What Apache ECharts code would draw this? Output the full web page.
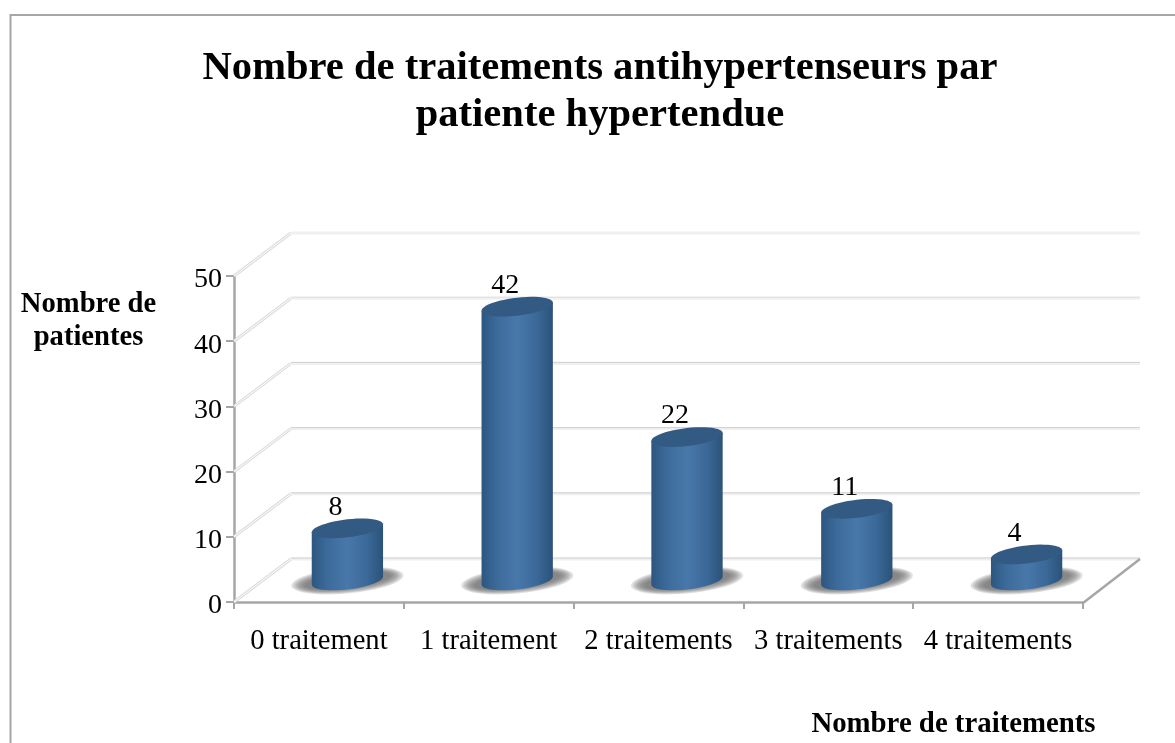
<!DOCTYPE html>
<html>
<head>
<meta charset="utf-8">
<style>
  html, body { margin: 0; padding: 0; background: #fff; }
  #main { width: 1175px; height: 743px; }
</style>
<script src="https://cdn.jsdelivr.net/npm/echarts@6/dist/echarts.min.js"></script>
</head>
<body>
<div id="main"></div>
<script>
var categories = ['0 traitement', '1 traitement', '2 traitements', '3 traitements', '4 traitements']
var patients = [8, 42, 22, 11, 4]
var yTicks = [0, 10, 20, 30, 40, 50]

// decalage de la profondeur du faux 3D
var DEPTH_X = 57
var DEPTH_Y = -43
var FONT = '"Liberation Serif", serif'

function ellipse (cx, cy, a, b, shear) {
  var pts = []
  for (var i = 0; i < 48; i++) {
    var t = i / 48 * Math.PI * 2
    pts.push([cx + a * Math.cos(t), cy + b * Math.sin(t) - shear * Math.cos(t)])
  }
  return pts
}

function renderWall (params, api) {
  var rect = params.coordSys
  var v = api.value(1)
  var y = api.coord([0, v])[1]
  var x0 = rect.x
  var x1 = x0 + DEPTH_X
  var x2 = rect.x + rect.width + DEPTH_X
  var y1 = y + DEPTH_Y
  var children = [
    { type: 'line', shape: { x1: x0, y1: y, x2: x1, y2: y1 }, style: { stroke: '#dcdcdc', lineWidth: 3 } },
    { type: 'line', shape: { x1: x0, y1: y, x2: x1, y2: y1 }, style: { stroke: '#fff', lineWidth: 1 } },
    { type: 'line', shape: { x1: x1, y1: y1, x2: x2, y2: y1 }, style: { stroke: '#f0f0f0', lineWidth: 3 } }
  ]
  // la ligne du haut reste claire
  if (v < 50) {
    children.push({
      type: 'line',
      shape: { x1: x1, y1: y1 - 1, x2: x2, y2: y1 - 1 },
      style: { stroke: v === 40 ? '#dedede' : '#d0d0d0', lineWidth: 1 }
    })
  }
  if (v === 0) {
    children.push({
      type: 'line',
      shape: { x1: rect.x + rect.width, y1: y + 1, x2: x2, y2: y1 },
      style: { stroke: '#a6a6a6', lineWidth: 2.5 }
    })
  }
  return { type: 'group', children: children }
}

function renderShadow (params, api) {
  var base = api.coord([api.value(0), 0])
  var band = api.size([1, 0])[0]
  var children = []
  // ombre douce : ellipses empilees
  for (var i = 0; i < 7; i++) {
    children.push({
      type: 'polygon',
      shape: {
        points: ellipse(base[0] + DEPTH_X / 2, base[1] + DEPTH_Y / 2, band * 0.33 - i * 2.2, 13 - i * 0.9, 5)
      },
      style: { fill: 'rgba(105,105,105,0.2)' }
    })
  }
  return { type: 'group', children: children }
}

function renderCylinder (params, api) {
  var top = api.coord([api.value(0), api.value(1)])
  var base = api.coord([api.value(0), 0])
  var a = api.size([1, 0])[0] * 0.21
  var b = 9
  var shear = 4
  var cx = top[0] + DEPTH_X / 2
  var topY = top[1] + DEPTH_Y / 2
  var baseY = base[1] + DEPTH_Y / 2
  // le corps : haut du cote gauche, puis demi ellipse du bas
  var body = [[cx + a, topY - shear]]
  for (var i = 0; i <= 24; i++) {
    var t = i / 24 * Math.PI
    body.push([cx + a * Math.cos(t), baseY + b * Math.sin(t) - shear * Math.cos(t)])
  }
  body.push([cx - a, topY + shear])
  return {
    type: 'group',
    children: [
      {
        type: 'polygon',
        shape: { points: body },
        style: {
          fill: new echarts.graphic.LinearGradient(0, 0, 1, 0, [
            { offset: 0, color: '#2d5680' },
            { offset: 0.22, color: '#3c6b9b' },
            { offset: 0.5, color: '#4878aa' },
            { offset: 0.78, color: '#3a6898' },
            { offset: 1, color: '#2b5279' }
          ])
        }
      },
      {
        type: 'polygon',
        shape: { points: ellipse(cx, topY, a, b, shear) },
        style: { fill: '#325a82' }
      },
      {
        type: 'text',
        style: {
          text: String(api.value(1)),
          x: cx - 12,
          y: topY - 21,
          align: 'center',
          verticalAlign: 'middle',
          fill: '#000',
          font: '28px ' + FONT
        }
      }
    ]
  }
}

var myChart = echarts.init(document.getElementById('main'), null, { renderer: 'canvas' })
myChart.setOption({
  animation: false,
  backgroundColor: '#fff',
  title: [{
    text: 'Nombre de traitements antihypertenseurs par\npatiente hypertendue',
    left: 595,
    top: 40,
    textAlign: 'center',
    textStyle: { fontFamily: FONT, fontSize: 40.6, fontWeight: 'bold', color: '#000', lineHeight: 47 }
  }, {
    text: 'Nombre de\npatientes',
    left: 83.5,
    top: 283,
    textAlign: 'center',
    textStyle: { fontFamily: FONT, fontSize: 28.6, fontWeight: 'bold', color: '#000', lineHeight: 33 }
  }, {
    text: 'Nombre de traitements',
    left: 948.5,
    top: 705,
    textAlign: 'center',
    textStyle: { fontFamily: FONT, fontSize: 28.8, fontWeight: 'bold', color: '#000' }
  }],
  graphic: [{
    type: 'rect',
    silent: true,
    z: -1,
    shape: { x: 10.5, y: 15, width: 1170, height: 760 },
    style: { fill: 'none', stroke: '#a6a6a6', lineWidth: 2 }
  }],
  grid: { left: 234, top: 276, width: 849, height: 326 },
  xAxis: {
    type: 'category',
    data: categories,
    axisLine: { lineStyle: { color: '#a6a6a6', width: 2.5 } },
    axisTick: { show: true, length: 7, lineStyle: { color: '#a6a6a6', width: 2 } },
    axisLabel: { color: '#000', fontFamily: FONT, fontSize: 28.6, margin: 25, interval: 0 }
  },
  yAxis: {
    type: 'value',
    min: 0,
    max: 50,
    interval: 10,
    splitLine: { show: false },
    axisLine: { show: true, lineStyle: { color: '#a6a6a6', width: 2.5 } },
    axisTick: { show: true, length: 8, lineStyle: { color: '#a6a6a6', width: 2 } },
    axisLabel: { color: '#000', fontFamily: FONT, fontSize: 28, margin: 12, verticalAlign: 'top', lineHeight: 8 }
  },
  series: [{
    type: 'custom',
    name: 'grille',
    z: 1,
    silent: true,
    renderItem: renderWall,
    encode: { x: 0, y: 1 },
    data: yTicks.map(function (v) { return [0, v] })
  }, {
    type: 'custom',
    name: 'ombre',
    z: 2,
    silent: true,
    renderItem: renderShadow,
    encode: { x: 0, y: 1 },
    data: patients.map(function (v, i) { return [i, v] })
  }, {
    type: 'custom',
    name: 'Nombre de patientes',
    z: 3,
    renderItem: renderCylinder,
    encode: { x: 0, y: 1 },
    data: patients.map(function (v, i) { return [i, v] })
  }]
})
</script>
</body>
</html>
